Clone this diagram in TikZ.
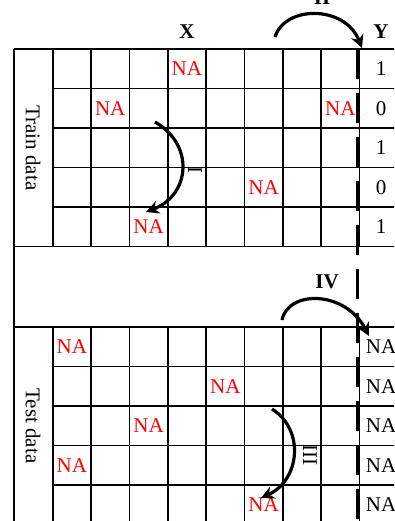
\documentclass[tikz,border=0pt]{standalone}
\usepackage{fontspec}
\setmainfont{Liberation Serif}
\usetikzlibrary{arrows.meta}
\begin{document}
\begin{tikzpicture}[x=1pt,y=-1pt,
  gridline/.style={line width=1.8pt},
  sepline/.style={line width=3.5pt, dash pattern=on 30pt off 14pt},
  curvedarrow/.style={line width=3.2pt, -{Stealth[length=13pt,width=13pt]}},
  txt/.style={font=\fontsize{21}{25}\selectfont, inner sep=0pt},
  na/.style={txt, text=red},
  bold/.style={font=\fontsize{21}{25}\selectfont\bfseries, inner sep=0pt}
]
\useasboundingbox (0,0) rectangle (394,521);
\clip (0,0) rectangle (394,521);

% outer left line
\draw[gridline] (14,49) -- (14,530);
% full-width horizontals
\foreach \yy in {49,246.5,327} \draw[gridline] (14,\yy) -- (400,\yy);
% inner horizontals
\foreach \yy in {88.5,128,167.5,207,366.5,406,445.5,485} \draw[gridline] (52.7,\yy) -- (400,\yy);
% verticals in the two blocks
\foreach \xx in {52.7,91.05,129.4,167.75,206.1,244.45,282.8,321.15,359.5} {
  \draw[gridline] (\xx,49) -- (\xx,246.5);
  \draw[gridline] (\xx,327) -- (\xx,530);
}
% dashed separator
\draw[sepline] (357.5,49) -- (357.5,530);

% headers
\node[bold] (X) at (187,32) {X};
\node[bold] (Y) at (381,32) {Y};
\node[txt, rotate=-90] (train) at (33,148) {Train data};
\node[txt, rotate=-90] (test) at (33,426) {Test data};

% train values
\node[txt] (y1) at (381,68.75) {1};
\node[txt] (y2) at (381,108.25) {0};
\node[txt] (y3) at (381,147.75) {1};
\node[txt] (y4) at (381,187.25) {0};
\node[txt] (y5) at (381,226.75) {1};
\node[na] (a1) at (186.9,68.75) {NA};
\node[na] (a2) at (110.2,108.25) {NA};
\node[na] (a3) at (340.3,108.25) {NA};
\node[na] (a4) at (263.6,187.25) {NA};
\node[na] (a5) at (148.6,226.75) {NA};

% test values
\node[txt] (t1) at (381,346.75) {NA};
\node[txt] (t2) at (381,386.25) {NA};
\node[txt] (t3) at (381,425.75) {NA};
\node[txt] (t4) at (381,465.25) {NA};
\node[txt] (t5) at (381,504.75) {NA};
\node[na] (b1) at (71.9,346.75) {NA};
\node[na] (b2) at (225.3,386.25) {NA};
\node[na] (b3) at (148.6,425.75) {NA};
\node[na] (b4) at (71.9,465.25) {NA};
\node[na] (b5) at (263.6,504.75) {NA};

% arrows
\coordinate (IIs) at (275,37);
\coordinate (IIe) at (362,48);
\draw[curvedarrow] (IIs) .. controls (285,5) and (345,5) .. (IIe);
\node[bold] (IIl) at (322,-2) {II};

\coordinate (Is) at (155,122);
\coordinate (Ie) at (146,212);
\draw[curvedarrow] (Is) .. controls (195,145) and (190,195) .. (Ie);
\node[txt, rotate=-90] (Il) at (195,170) {I};

\coordinate (IIIs) at (272,409);
\coordinate (IIIe) at (261,498);
\draw[curvedarrow] (IIIs) .. controls (305,430) and (300,480) .. (IIIe);
\node[txt, rotate=-90] (IIIl) at (310,455) {III};

\coordinate (IVs) at (282,320);
\coordinate (IVe) at (369,336);
\draw[curvedarrow] (IVs) .. controls (288,290) and (345,290) .. (IVe);
\node[bold] (IVl) at (327,282) {IV};
\end{tikzpicture}
\end{document}
